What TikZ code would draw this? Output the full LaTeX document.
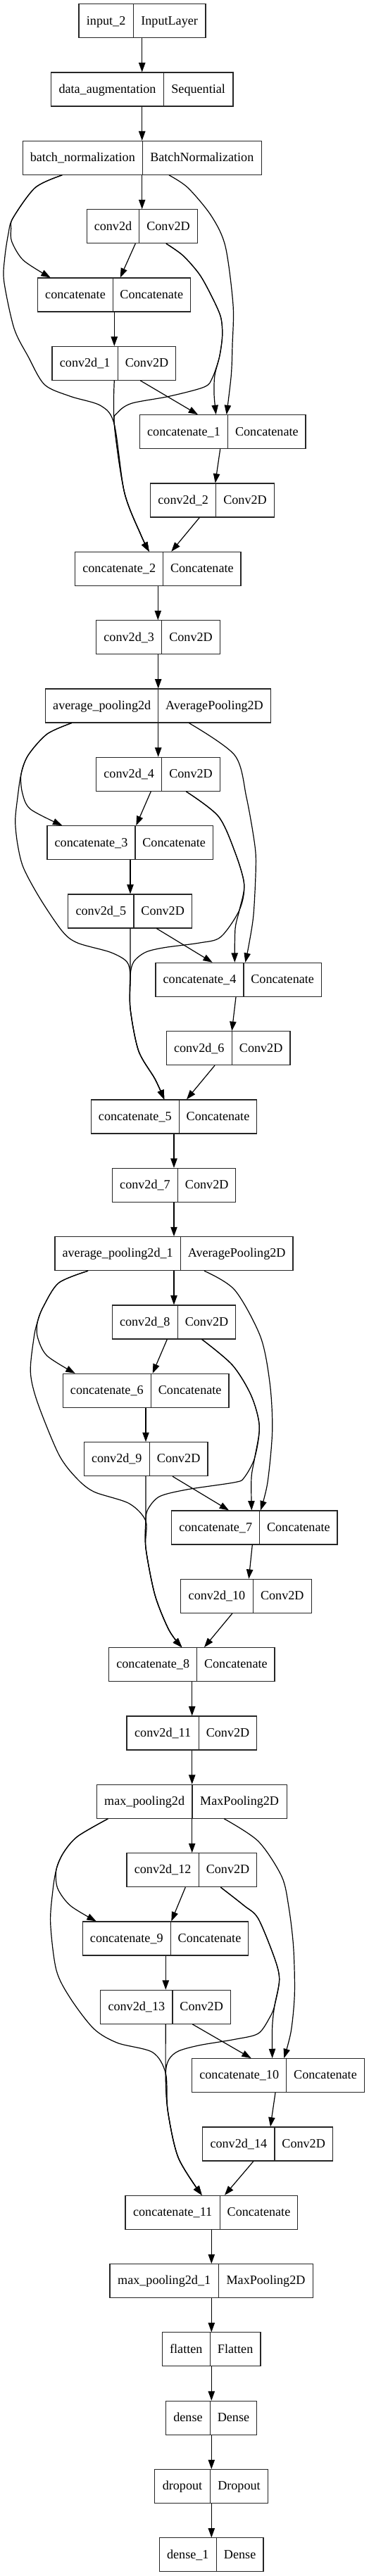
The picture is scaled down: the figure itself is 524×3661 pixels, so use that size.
\documentclass[tikz,border=0pt]{standalone}
\usepackage{fontspec}
\setmainfont{Liberation Serif}
\usetikzlibrary{arrows.meta,calc}
\tikzset{
  box/.style={draw=black!85, line width=0.8pt, rectangle, inner sep=0pt, minimum height=36pt},
  lbl/.style={inner sep=0pt, font=\fontsize{13.6}{16}\selectfont, text height=10pt, text depth=2pt},
  boxline/.style={draw=black!85, line width=0.8pt},
  edge/.style={line width=0.9pt, draw=black, -{Triangle[length=10pt,width=7pt]}},
}
\newcommand\klayer[7]{%
  \pgfmathsetmacro\kt{5.7+97.33*#2}%
  \pgfmathsetmacro\kc{\kt+24}%
  \node[box, minimum width={(#5-#3)*0.75pt}] (#1) at ({(#3+#5)/2},\kc) {};
  \node[lbl] (#1a) at ({(#3+#4)/2},\kc) {#6};
  \node[lbl] (#1b) at ({(#4+#5)/2},\kc) {#7};
  \draw[boxline] (#1.north -| #4,0) -- (#1.south -| #4,0);
}
\newcommand\sedge[4]{\draw[edge] (#1.south -| #2,0) -- (#3.north -| #4,0);}
\begin{document}
\begin{tikzpicture}[x=0.75pt,y=-0.75pt]
\fill[white] (0,0) rectangle (524,3661);
\useasboundingbox (0,0) rectangle (524,3661);

\klayer{n0}{0}{112}{189.3}{292}{input\_2}{InputLayer}
\klayer{n1}{1}{72.7}{232.3}{331}{data\_augmentation}{Sequential}
\klayer{n2}{2}{32.3}{202.3}{371.3}{batch\_normalization}{BatchNormalization}
\klayer{n3}{3}{123.3}{197.7}{280.3}{conv2d}{Conv2D}
\klayer{n4}{4}{53.7}{160.3}{270.3}{concatenate}{Concatenate}
\klayer{n5}{5}{74}{167.3}{249.7}{conv2d\_1}{Conv2D}
\klayer{n6}{6}{198.3}{323.7}{434}{concatenate\_1}{Concatenate}
\klayer{n7}{7}{213.7}{306.7}{389.3}{conv2d\_2}{Conv2D}
\klayer{n8}{8}{106.7}{231.7}{342}{concatenate\_2}{Concatenate}
\klayer{n9}{9}{136.7}{229.7}{312.3}{conv2d\_3}{Conv2D}
\klayer{n10}{10}{64.7}{224.7}{384.3}{average\_pooling2d}{AveragePooling2D}
\klayer{n11}{11}{136.7}{229.7}{312.3}{conv2d\_4}{Conv2D}
\klayer{n12}{12}{67}{192}{302.3}{concatenate\_3}{Concatenate}
\klayer{n13}{13}{96.7}{190}{272.3}{conv2d\_5}{Conv2D}
\klayer{n14}{14}{221}{346}{456.3}{concatenate\_4}{Concatenate}
\klayer{n15}{15}{236.3}{329.3}{412}{conv2d\_6}{Conv2D}
\klayer{n16}{16}{129.3}{254.3}{364.7}{concatenate\_5}{Concatenate}
\klayer{n17}{17}{159.3}{252.7}{334.7}{conv2d\_7}{Conv2D}
\klayer{n18}{18}{78}{256.3}{416}{average\_pooling2d\_1}{AveragePooling2D}
\klayer{n19}{19}{159.3}{252.3}{334.7}{conv2d\_8}{Conv2D}
\klayer{n20}{20}{89.3}{214.3}{325}{concatenate\_6}{Concatenate}
\klayer{n21}{21}{119.3}{212.3}{295}{conv2d\_9}{Conv2D}
\klayer{n22}{22}{243.7}{368.7}{479}{concatenate\_7}{Concatenate}
\klayer{n23}{23}{256.7}{359.3}{442.3}{conv2d\_10}{Conv2D}
\klayer{n24}{24}{154.7}{279.7}{390}{concatenate\_8}{Concatenate}
\klayer{n25}{25}{180}{282.3}{364.7}{conv2d\_11}{Conv2D}
\klayer{n26}{26}{137.3}{273}{407.3}{max\_pooling2d}{MaxPooling2D}
\klayer{n27}{27}{180}{282.3}{364.7}{conv2d\_12}{Conv2D}
\klayer{n28}{28}{117.3}{242.3}{352.7}{concatenate\_9}{Concatenate}
\klayer{n29}{29}{142.7}{245}{327.3}{conv2d\_13}{Conv2D}
\klayer{n30}{30}{272.7}{406.7}{517.3}{concatenate\_10}{Concatenate}
\klayer{n31}{31}{287.7}{390}{472.3}{conv2d\_14}{Conv2D}
\klayer{n32}{32}{178}{312.3}{422.7}{concatenate\_11}{Concatenate}
\klayer{n33}{33}{156}{310.3}{444.7}{max\_pooling2d\_1}{MaxPooling2D}
\klayer{n34}{34}{230.3}{298.3}{370}{flatten}{Flatten}
\klayer{n35}{35}{235.7}{298.3}{364.7}{dense}{Dense}
\klayer{n36}{36}{219.7}{298.3}{380.7}{dropout}{Dropout}
\klayer{n37}{37}{226.3}{307.3}{374}{dense\_1}{Dense}

% straight edges
\sedge{n0}{201.7}{n1}{201.7}
\sedge{n1}{201.7}{n2}{201.7}
\sedge{n2}{201.7}{n3}{201.7}
\sedge{n3}{192.3}{n4}{170.7}
\sedge{n4}{162.3}{n5}{162.3}
\sedge{n5}{199.3}{n6}{281}
\sedge{n6}{312.7}{n7}{305.7}
\sedge{n7}{283.3}{n8}{243.3}
\sedge{n8}{224.3}{n9}{224.3}
\sedge{n9}{224.7}{n10}{224.7}
\sedge{n10}{224.7}{n11}{224.7}
\sedge{n11}{214.3}{n12}{193.3}
\sedge{n12}{185}{n13}{185}
\sedge{n13}{222.3}{n14}{301.7}
\sedge{n14}{335}{n15}{329.3}
\sedge{n15}{305}{n16}{265}
\sedge{n16}{247}{n17}{247}
\sedge{n17}{247}{n18}{247}
\sedge{n18}{247}{n19}{247}
\sedge{n19}{237.3}{n20}{216.7}
\sedge{n20}{207}{n21}{207}
\sedge{n21}{245}{n22}{325}
\sedge{n22}{358.3}{n23}{353.3}
\sedge{n23}{330}{n24}{290}
\sedge{n24}{272.7}{n25}{272.7}
\sedge{n25}{272.7}{n26}{272.7}
\sedge{n26}{272.7}{n27}{272.7}
\sedge{n27}{263.3}{n28}{243.3}
\sedge{n28}{235.3}{n29}{235.3}
\sedge{n29}{273.3}{n30}{356.7}
\sedge{n30}{391}{n31}{384}
\sedge{n31}{360}{n32}{319}
\sedge{n32}{300.3}{n33}{300.3}
\sedge{n33}{300.3}{n34}{300.3}
\sedge{n34}{300.3}{n35}{300.3}
\sedge{n35}{300.3}{n36}{300.3}
\sedge{n36}{300.3}{n37}{300.3}

% ---- block 1
\draw[edge] plot[smooth] coordinates {(n2.south -| 88.3,0) (50,266.7) (18.3,310) (15.7,325) (16.7,343.3) (33.3,370) (n4.north -| 71.7,0)};
\draw[edge] plot[smooth] coordinates {(n2.south -| 88.3,0) (50,266.7) (18.3,310) (11.7,333) (6.7,366.7) (5.7,400) (20,466.7) (40,506.7) (63.3,546.7) (100,563.3) (143.3,576.7) (162.3,603) (176.7,700) (200,760) (n8.north -| 211.7,0)};
\draw[edge] plot[smooth] coordinates {(n5.south -| 162.3,0) (162.3,603) (176.7,700) (200,760) (n8.north -| 211.7,0)};
\draw[edge] plot[smooth] coordinates {(n3.south -| 236,0) (260,363.3) (283.3,390) (300,420) (313.3,450) (315.7,476.7) (311.7,506.7) (305,533.3) (304,560) (n6.north -| 306.7,0)};
\draw[edge] plot[smooth] coordinates {(n3.south -| 236,0) (260,363.3) (283.3,390) (300,420) (313.3,450) (315.7,476.7) (311.7,506.7) (301.7,536.7) (290,550) (240,563.3) (186.7,573.3) (166.7,586.7) (162.3,603) (176.7,700) (200,760) (n8.north -| 211.7,0)};
\draw[edge] plot[smooth] coordinates {(n2.south -| 240,0) (266.7,266.7) (300,306.7) (320,350) (331,433.3) (330,490) (328.3,533.3) (n6.north -| 321.7,0)};

% ---- block 2
\draw[edge] plot[smooth] coordinates {(n10.south -| 101.7,0) (66.7,1043.3) (40,1073.3) (30,1100) (31.7,1126.7) (43.3,1150) (n12.north -| 88.3,0)};
\draw[edge] plot[smooth] coordinates {(n10.south -| 101.7,0) (66.7,1043.3) (40,1073.3) (30,1100) (25,1133.3) (21.7,1166.7) (25,1200) (33.3,1233.3) (56.7,1276.7) (88.3,1323.3) (110,1340) (156.7,1353.3) (180,1366.7) (185,1386.7) (185,1433.3) (196.7,1493.3) (220,1533.3) (n16.north -| 233.3,0)};
\draw[edge] plot[smooth] coordinates {(n13.south -| 185,0) (185,1386.7) (185,1433.3) (196.7,1493.3) (220,1533.3) (n16.north -| 233.3,0)};
\draw[edge] plot[smooth] coordinates {(n11.south -| 264.3,0) (310,1160) (333.3,1210) (346.7,1256.7) (340,1293.3) (334,1320) (n14.north -| 333.3,0)};
\draw[edge] plot[smooth] coordinates {(n11.south -| 264.3,0) (310,1160) (333.3,1210) (346.7,1256.7) (340,1293.3) (313.3,1331.7) (283.3,1340) (233.3,1346.7) (206.7,1353.3) (190,1366.7) (185,1386.7) (185,1433.3) (196.7,1493.3) (220,1533.3) (n16.north -| 233.3,0)};
\draw[edge] plot[smooth] coordinates {(n10.south -| 268.3,0) (333.3,1073.3) (350,1133.3) (361.7,1200) (363.3,1233.3) (360,1300) (353.3,1343.3) (n14.north -| 348.3,0)};

% ---- block 3
\draw[edge] plot[smooth] coordinates {(n18.south -| 125,0) (83.3,1823.3) (61.7,1856.7) (53.3,1878.3) (53.3,1900) (66.7,1926.7) (n20.north -| 106.7,0)};
\draw[edge] plot[smooth] coordinates {(n18.south -| 125,0) (83.3,1823.3) (61.7,1856.7) (53.3,1878.3) (48.3,1900) (43.3,1950) (53.3,1993.3) (83.3,2066.7) (108,2100) (133.3,2120) (183.3,2136.7) (207,2161.7) (207,2200) (220,2266.7) (240,2316.7) (n24.north -| 258.3,0)};
\draw[edge] plot[smooth] coordinates {(n21.south -| 207,0) (207,2161.7) (207,2200) (220,2266.7) (240,2316.7) (n24.north -| 258.3,0)};
\draw[edge] plot[smooth] coordinates {(n19.south -| 286.7,0) (330,1940) (356.7,1983.3) (368.3,2026.7) (361.7,2071.7) (357,2100) (n22.north -| 357.3,0)};
\draw[edge] plot[smooth] coordinates {(n19.south -| 286.7,0) (330,1940) (356.7,1983.3) (368.3,2026.7) (361.7,2071.7) (346.7,2100) (333.3,2106.7) (266.7,2116.7) (226.7,2126.7) (210,2145) (207,2161.7) (207,2200) (220,2266.7) (240,2316.7) (n24.north -| 258.3,0)};
\draw[edge] plot[smooth] coordinates {(n18.south -| 290,0) (333.3,1833.3) (370,1900) (383.3,1966.7) (386.7,2033.3) (380,2106.7) (n22.north -| 370,0)};

% ---- block 4
\draw[edge] plot[smooth] coordinates {(n26.south -| 153.3,0) (110,2610) (90,2633.3) (80,2656.7) (81.7,2683.3) (100,2708.3) (n28.north -| 136.7,0)};
\draw[edge] plot[smooth] coordinates {(n26.south -| 153.3,0) (110,2610) (90,2633.3) (80,2656.7) (75,2686.7) (71.7,2733.3) (80,2800) (100,2840) (133.3,2883.3) (166.7,2903.3) (216.7,2916.7) (235.3,2946.7) (238.3,3000) (253.3,3066.7) (n32.north -| 286.7,0)};
\draw[edge] plot[smooth] coordinates {(n29.south -| 235.3,0) (235.3,2946.7) (238.3,3000) (253.3,3066.7) (n32.north -| 286.7,0)};
\draw[edge] plot[smooth] coordinates {(n27.south -| 313.3,0) (346.7,2708.3) (366.7,2726.7) (390,2783.3) (396.7,2813.3) (390,2850) (386.7,2880) (n30.north -| 386.7,0)};
\draw[edge] plot[smooth] coordinates {(n27.south -| 313.3,0) (346.7,2708.3) (366.7,2726.7) (390,2783.3) (396.7,2813.3) (390,2850) (383.3,2866.7) (366.7,2890) (333.3,2898.3) (283.3,2906.7) (253.3,2915) (240,2926.7) (235.3,2946.7) (238.3,3000) (253.3,3066.7) (n32.north -| 286.7,0)};
\draw[edge] plot[smooth] coordinates {(n26.south -| 318.3,0) (366.7,2616.7) (400,2666.7) (410,2710) (416.7,2766.7) (418.3,2833.3) (413.3,2886.7) (n30.north -| 403.3,0)};
\end{tikzpicture}
\end{document}
